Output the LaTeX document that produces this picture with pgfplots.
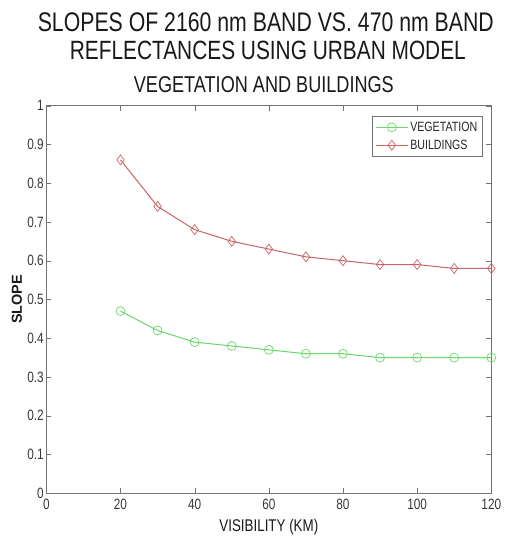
\documentclass[border=0pt]{standalone}
\usepackage{fontspec}
\setmainfont[FakeStretch=0.79]{Liberation Sans}
\newfontfamily\plainsans{Liberation Sans}
\usepackage{pgfplots}
\pgfplotsset{compat=1.18}
\definecolor{veg}{RGB}{105,215,105}
\definecolor{bld}{RGB}{200,100,100}
\definecolor{axgray}{RGB}{115,115,115}
\definecolor{ticktext}{RGB}{55,55,55}
\begin{document}
\begin{tikzpicture}
\begin{axis}[
  scale only axis,
  width=446.5pt, height=389pt,
  xmin=0, xmax=120, ymin=0, ymax=1,
  xtick={0,20,...,120},
  ytick={0,0.1,...,1},
  yticklabels={0,0.1,0.2,0.3,0.4,0.5,0.6,0.7,0.8,0.9,1},
  /pgf/number format/assume math mode=true,
  tick label style={font=\fontsize{15}{17}\selectfont, text=ticktext},
  xticklabel style={yshift=-2pt},
  yticklabel style={xshift=1pt},
  tick align=inside,
  major tick length=5pt,
  axis line style={axgray},
  tick style={axgray},
  xlabel={VISIBILITY (KM)},
  ylabel={SLOPE},
  xlabel style={font=\fontsize{17}{19}\selectfont, at={(axis description cs:0.5,-0.0977)}, anchor=base, text=black!90},
  ylabel style={font=\plainsans\bfseries\fontsize{14.5}{16}\selectfont, at={(axis description cs:-0.066,0.5)}, anchor=center, text=black!90},
  legend style={at={(0.98,0.974)}, anchor=north east, font=\fontsize{13.5}{15}\selectfont, draw=axgray, row sep=3pt, inner xsep=3pt, inner ysep=4pt, text=black!85},
  legend cell align=left,
  legend image code/.code={\draw[mark repeat=2,mark phase=2,#1] plot coordinates {(0pt,0pt) (16pt,0pt) (32pt,0pt)};},
]
\addplot[veg, line width=1pt, mark=o, mark size=4.5pt, mark options={solid, line width=0.7pt}] coordinates {
(20,0.47) (30,0.42) (40,0.39) (50,0.38) (60,0.37) (70,0.36) (80,0.36) (90,0.35) (100,0.35) (110,0.35) (120,0.35)};
\addlegendentry{VEGETATION}
\addplot[bld, line width=1pt, mark=diamond, mark size=5pt, mark options={solid, line width=0.7pt}] coordinates {
(20,0.86) (30,0.74) (40,0.68) (50,0.65) (60,0.63) (70,0.61) (80,0.60) (90,0.59) (100,0.59) (110,0.58) (120,0.58)};
\addlegendentry{BUILDINGS}
\end{axis}
\node[anchor=base, font=\fontsize{27}{30}\selectfont, text=black!90] at ([xshift=-3pt, yshift=74.3pt]current axis.north) {SLOPES OF 2160 nm BAND VS. 470 nm BAND};
\node[anchor=base, font=\fontsize{26.5}{30}\selectfont, text=black!90] at ([xshift=-1pt, yshift=46pt]current axis.north) {REFLECTANCES USING URBAN MODEL};
\node[anchor=base, font=\fontsize{23}{26}\selectfont, text=black!90] at ([xshift=-5pt, yshift=12.7pt]current axis.north) {VEGETATION AND BUILDINGS};
\path ([shift={(-46.5pt,-43pt)}]current axis.south west) rectangle ([shift={(13pt,106pt)}]current axis.north east);
\end{tikzpicture}
\end{document}
